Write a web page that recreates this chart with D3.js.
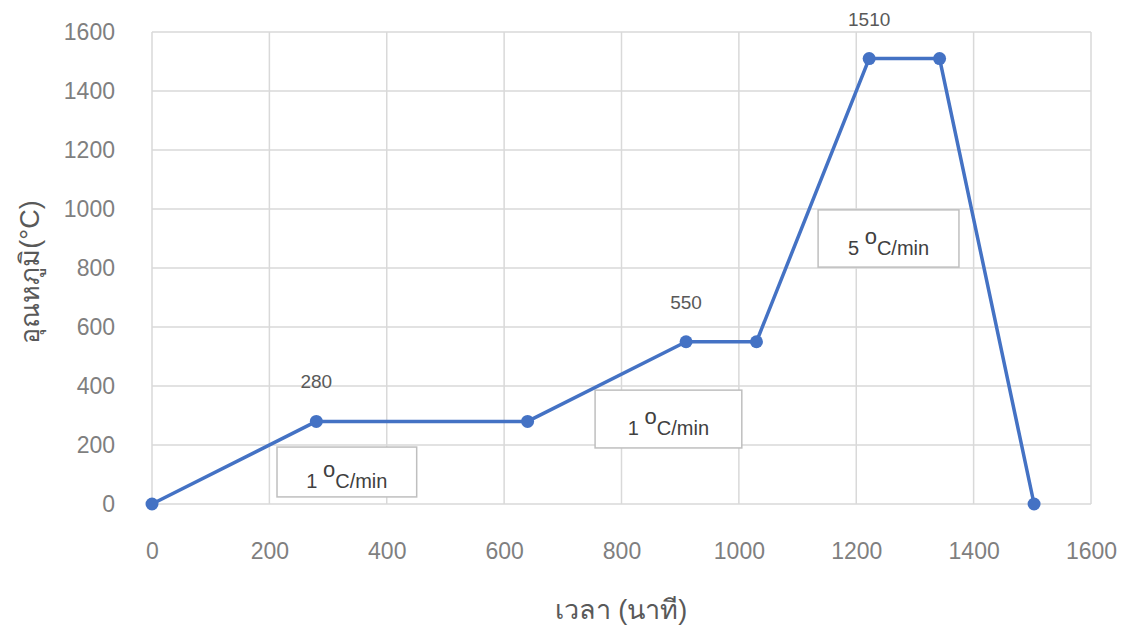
<!DOCTYPE html>
<html>
<head>
<meta charset="utf-8">
<script src="https://cdn.jsdelivr.net/npm/d3@7"></script>
<style>
  html, body { margin: 0; padding: 0; background: #fff; }
  svg { display: block; font-family: "Liberation Sans", Arial, "Noto Sans", sans-serif; }
</style>
</head>
<body>
<svg id="chart" width="1134" height="630"></svg>
<script>
// Firing schedule: time (minutes) vs temperature (°C)
const timeMin = [0, 280, 640, 910, 1030, 1222, 1342, 1503];
const tempC   = [0, 280, 280, 550, 550, 1510, 1510, 0];

const xTicks = [0, 200, 400, 600, 800, 1000, 1200, 1400, 1600];
const yTicks = [0, 200, 400, 600, 800, 1000, 1200, 1400, 1600];

// Peak temperatures labelled above the first point of each hold
const peakTime  = [280, 910, 1222];
const peakTemp  = [280, 550, 1510];
const peakLabel = ["280", "550", "1510"];

// Heating-rate boxes: [x0, x1] in minutes, [y0, y1] in °C
const rateText = ["1", "1", "5"];
const rateX0 = [213, 755, 1135];
const rateX1 = [451, 1005, 1375];
const rateY0 = [24, 190, 803];
const rateY1 = [193, 386, 997];

const svg = d3.select("#chart");
const margin = { left: 152, right: 43, top: 32, bottom: 126 };
const W = 1134, H = 630;

const x = d3.scaleLinear().domain([0, 1600]).range([margin.left, W - margin.right]);
const y = d3.scaleLinear().domain([0, 1600]).range([H - margin.bottom, margin.top]);

const grid = "#d9d9d9";
const textCol = "#595959";

// Gridlines
svg.append("g").selectAll("line.h").data(yTicks).join("line")
  .attr("x1", x(0)).attr("x2", x(1600))
  .attr("y1", d => y(d)).attr("y2", d => y(d))
  .attr("stroke", grid).attr("stroke-width", 1.5);
svg.append("g").selectAll("line.v").data(xTicks).join("line")
  .attr("y1", y(0)).attr("y2", y(1600))
  .attr("x1", d => x(d)).attr("x2", d => x(d))
  .attr("stroke", grid).attr("stroke-width", 1.5);

// Axes (labels only)
const xAxis = svg.append("g")
  .attr("transform", `translate(0,${y(0)})`)
  .call(d3.axisBottom(x).tickValues(xTicks).tickSize(0).tickPadding(39).tickFormat(d3.format("d")));
const yAxis = svg.append("g")
  .attr("transform", `translate(${x(0)},0)`)
  .call(d3.axisLeft(y).tickValues(yTicks).tickSize(0).tickPadding(37).tickFormat(d3.format("d")));
[xAxis, yAxis].forEach(g => {
  g.select(".domain").remove();
  g.selectAll("text").attr("fill", "#7f7f7f").style("font-size", "23px")
    .style("font-family", "'Liberation Sans', Arial, sans-serif");
});
yAxis.selectAll("text").attr("dy", "0.32em");

// Axis titles
svg.append("text")
  .attr("x", 621).attr("y", 619)
  .attr("text-anchor", "middle")
  .attr("fill", textCol).style("font-size", "27px")
  .text("เวลา (นาที)");
svg.append("text")
  .attr("transform", "translate(39,272) rotate(-90)")
  .attr("text-anchor", "middle")
  .attr("fill", textCol).style("font-size", "27px")
  .text("อุณหภูมิ(°C)");

// Rate annotation boxes
const boxes = svg.append("g");
rateText.forEach((r, i) => {
  const bx = x(rateX0[i]), bw = x(rateX1[i]) - x(rateX0[i]);
  const by = y(rateY1[i]), bh = y(rateY0[i]) - y(rateY1[i]);
  boxes.append("rect")
    .attr("x", bx).attr("y", by).attr("width", bw).attr("height", bh)
    .attr("fill", "#fff").attr("stroke", "#bfbfbf").attr("stroke-width", 1.5);
  const t = boxes.append("text")
    .attr("x", bx + bw / 2).attr("y", by + bh / 2 + 16)
    .attr("text-anchor", "middle")
    .attr("fill", "#404040").style("font-size", "20px");
  t.append("tspan").text(r + "\u00a0");
  t.append("tspan").attr("dy", -11).style("font-size", "22px").text("o");
  t.append("tspan").attr("dy", 11).text("C/min");
});

// Temperature profile line
const line = d3.line().x((d, i) => x(timeMin[i])).y(d => y(d));
svg.append("path")
  .datum(tempC)
  .attr("d", line)
  .attr("fill", "none")
  .attr("stroke", "#4472c4")
  .attr("stroke-width", 3.5)
  .attr("stroke-linejoin", "round");

svg.append("g").selectAll("circle").data(tempC).join("circle")
  .attr("cx", (d, i) => x(timeMin[i]))
  .attr("cy", d => y(d))
  .attr("r", 6.5)
  .attr("fill", "#4472c4");

// Peak labels
svg.append("g").selectAll("text").data(peakLabel).join("text")
  .attr("x", (d, i) => x(peakTime[i]))
  .attr("y", (d, i) => y(peakTemp[i]) - 33)
  .attr("text-anchor", "middle")
  .attr("fill", textCol).style("font-size", "19px")
  .text(d => d);
</script>
</body>
</html>
